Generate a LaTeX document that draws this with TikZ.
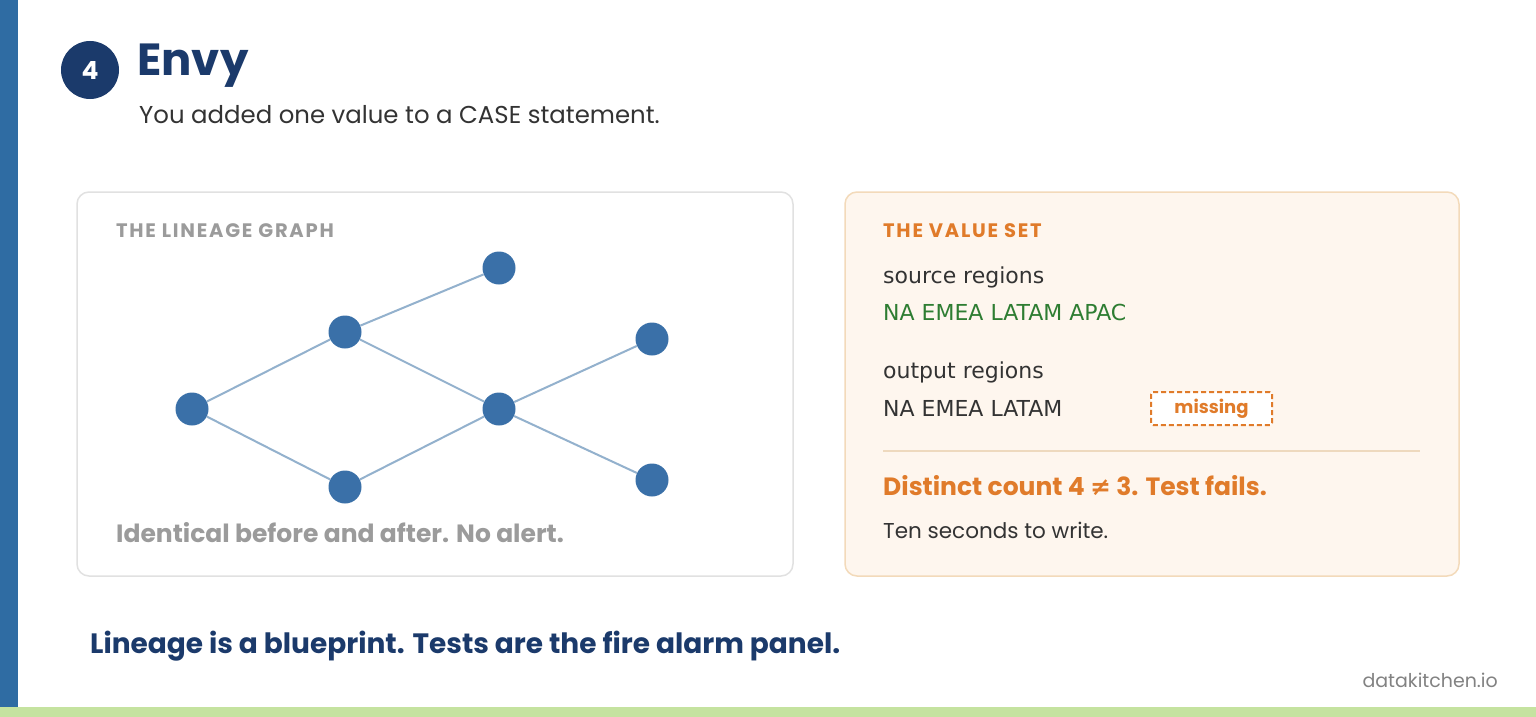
\documentclass[tikz,border=0pt]{standalone}
\usepackage{fontspec}
\setmainfont{Poppins}
\newfontfamily\dejavu{DejaVu Sans}
\begin{document}
\begin{tikzpicture}[x=1pt,y=-1pt,
  gnode/.style={circle,fill=nodeblue,minimum size=33pt,inner sep=0pt},
  edge/.style={draw=edgeblue,line width=2pt},
  txt/.style={anchor=west,inner sep=0pt},
  lbl/.style={txt,font=\bfseries\fontsize{19.5}{22}\selectfont\addfontfeatures{LetterSpace=9}}]
\definecolor{navy}{HTML}{1B3A6B}
\definecolor{barblue}{HTML}{2F6CA3}
\definecolor{nodeblue}{HTML}{3A70A8}
\definecolor{edgeblue}{HTML}{93B1CD}
\definecolor{orng}{HTML}{E07B2A}
\definecolor{grn}{HTML}{2E7D32}
\definecolor{dark}{HTML}{333333}
\definecolor{lgrey}{HTML}{9B9B9B}
\useasboundingbox (0,0) rectangle (1536,717);
\fill[white] (0,0) rectangle (1536,717);
\fill[barblue] (0,0) rectangle (18,717);
\fill[fill={rgb,255:red,197;green,227;blue,160}] (0,707) rectangle (1536,717);
% header
\node[circle,fill=navy,minimum size=58pt,inner sep=0pt,text=white,font=\bfseries\fontsize{25}{28}\selectfont] (num) at (90,70) {4};
\node[txt,text=navy,font=\bfseries\fontsize{45}{50}\selectfont] (title) at (137,66) {Envy};
\node[txt,text=dark,font=\fontsize{24.4}{28}\selectfont] (sub) at (139,115) {You added one value to a CASE statement.};
% cards
\draw[draw={rgb,255:red,225;green,225;blue,225},fill=white,line width=1.5pt,rounded corners=12pt] (77,192) rectangle (793,576);
\draw[draw={rgb,255:red,243;green,218;blue,186},fill={rgb,255:red,254;green,246;blue,238},line width=1.5pt,rounded corners=12pt] (845,192) rectangle (1459,576);
% lineage
\node[lbl,text=lgrey] (lg) at (116,231) {THE LINEAGE GRAPH};
\node[gnode] (A) at (192,409) {};
\node[gnode] (B) at (345,332) {};
\node[gnode] (C) at (345,487) {};
\node[gnode] (D) at (499,268) {};
\node[gnode] (E) at (499,409) {};
\node[gnode] (F) at (652,339) {};
\node[gnode] (G) at (652,480) {};
\draw[edge] (A) -- (B); \draw[edge] (A) -- (C); \draw[edge] (B) -- (D);
\draw[edge] (B) -- (E); \draw[edge] (C) -- (E); \draw[edge] (E) -- (F); \draw[edge] (E) -- (G);
\node[txt,text=lgrey,font=\bfseries\fontsize{25}{28}\selectfont] (ident) at (116,533) {Identical before and after. No alert.};
% value set
\node[lbl,text=orng] (vs) at (883,231) {THE VALUE SET};
\node[txt,text=dark,font=\dejavu\fontsize{22}{25}\selectfont] (sr) at (883,277) {source regions};
\node[txt,text=grn,font=\dejavu\fontsize{22}{25}\selectfont] (srv) at (883,312) {NA EMEA LATAM APAC};
\node[txt,text=dark,font=\dejavu\fontsize{22}{25}\selectfont] (or) at (883,372) {output regions};
\node[txt,text=dark,font=\dejavu\fontsize{22}{25}\selectfont] (orv) at (883,408) {NA EMEA LATAM};
\node[draw=orng,dash pattern=on 5pt off 3pt,line width=2pt,fill=white,rounded corners=2pt,minimum width=121pt,minimum height=33pt,text=orng,font=\bfseries\fontsize{18}{20}\selectfont] (miss) at (1211.5,408.5) {missing};
\coordinate (l1) at (883,451); \coordinate (l2) at (1420,451);
\draw[draw={rgb,255:red,238;green,217;blue,190},line width=1.5pt] (l1) -- (l2);
\node[txt,text=orng,font=\bfseries\fontsize{25}{28}\selectfont] (dc) at (883,486) {Distinct count 4 {\dejavu\bfseries ≠} 3. Test fails.};
\node[txt,text=dark,font=\fontsize{21.5}{24}\selectfont] (ten) at (883,530) {Ten seconds to write.};
% footer
\node[txt,text=navy,font=\bfseries\fontsize{28}{31}\selectfont] (foot) at (90,646) {Lineage is a blueprint. Tests are the fire alarm panel.};
\node[anchor=east,inner sep=0pt,text={rgb,255:red,130;green,130;blue,130},font=\fontsize{19}{21}\selectfont] (dk) at (1498,680) {datakitchen.io};
\end{tikzpicture}
\end{document}
